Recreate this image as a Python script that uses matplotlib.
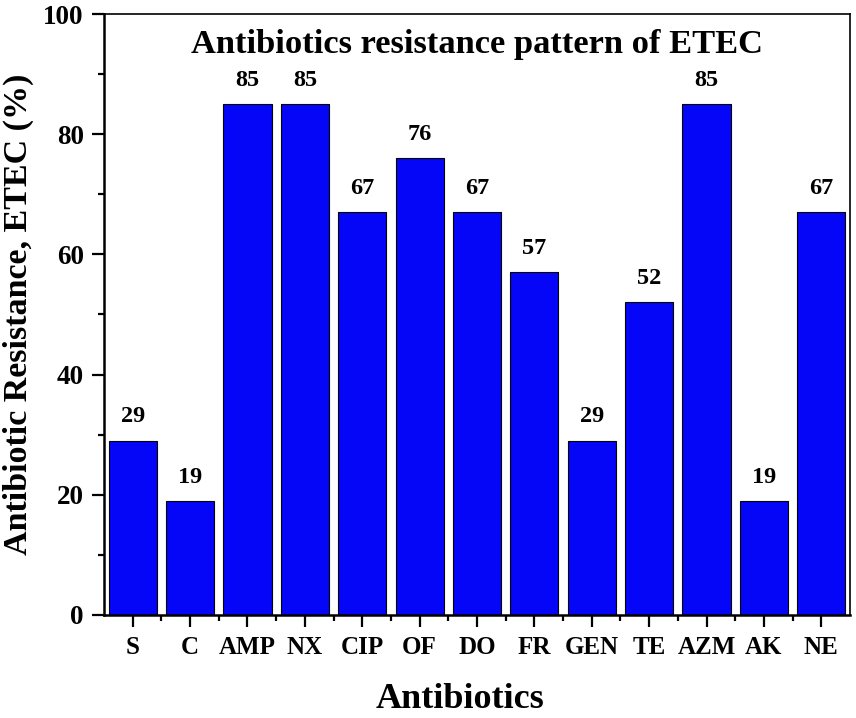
import numpy as np
import matplotlib.pyplot as plt
from matplotlib.ticker import MultipleLocator, FixedLocator

# Antibiotic resistance of ETEC isolates
antibiotics = ["S", "C", "AMP", "NX", "CIP", "OF", "DO", "FR", "GEN", "TE", "AZM", "AK", "NE"]
resistance = [29, 19, 85, 85, 67, 76, 67, 57, 29, 52, 85, 19, 67]

plt.rcParams['font.family'] = ['Liberation Serif', 'DejaVu Serif']
plt.rcParams['font.weight'] = 'bold'

fig = plt.figure(figsize=(8.56, 7.18), dpi=100)
ax = fig.add_axes([0.1215, 0.1435, 0.8715, 0.837])

x = np.arange(len(antibiotics))
bars = ax.bar(x, resistance, width=0.84, color='#0505F8', edgecolor='black', linewidth=0.8)

for xi, v in zip(x, resistance):
    ax.text(xi, v + 2.2, str(v), ha='center', va='bottom', fontsize=17.5, fontweight='bold')

ax.set_xlim(-0.5, len(antibiotics) - 0.5)
ax.set_ylim(0, 100)
ax.set_xticks(x)
ax.set_xticklabels(antibiotics)
ax.xaxis.set_minor_locator(FixedLocator(x[:-1] + 0.5))
ax.yaxis.set_major_locator(MultipleLocator(20))
ax.yaxis.set_minor_locator(MultipleLocator(10))

ax.tick_params(axis='both', which='major', direction='out', length=8.5, width=1.6,
               top=False, right=False)
ax.tick_params(axis='both', which='minor', direction='out', length=4, width=1.6,
               top=False, right=False)
ax.tick_params(axis='x', which='major', labelsize=18, pad=7)
ax.tick_params(axis='y', which='major', labelsize=19.5, pad=6)
for lab in ax.get_xticklabels() + ax.get_yticklabels():
    lab.set_fontweight('bold')

for side in ['left', 'bottom']:
    ax.spines[side].set_linewidth(1.8)
for side in ['top', 'right']:
    ax.spines[side].set_linewidth(1.2)

ax.set_xlabel('Antibiotics', fontsize=26, fontweight='bold')
ax.xaxis.label.set_va('baseline')
ax.xaxis.set_label_coords(0.477, -0.154)
ax.set_ylabel('Antibiotic Resistance, ETEC (%)', fontsize=24.5, fontweight='bold', labelpad=7)
ax.text(0.5, 0.949, 'Antibiotics resistance pattern of ETEC', transform=ax.transAxes,
        ha='center', va='center', fontsize=24.8, fontweight='bold')

fig.savefig('out.png', dpi=100)
